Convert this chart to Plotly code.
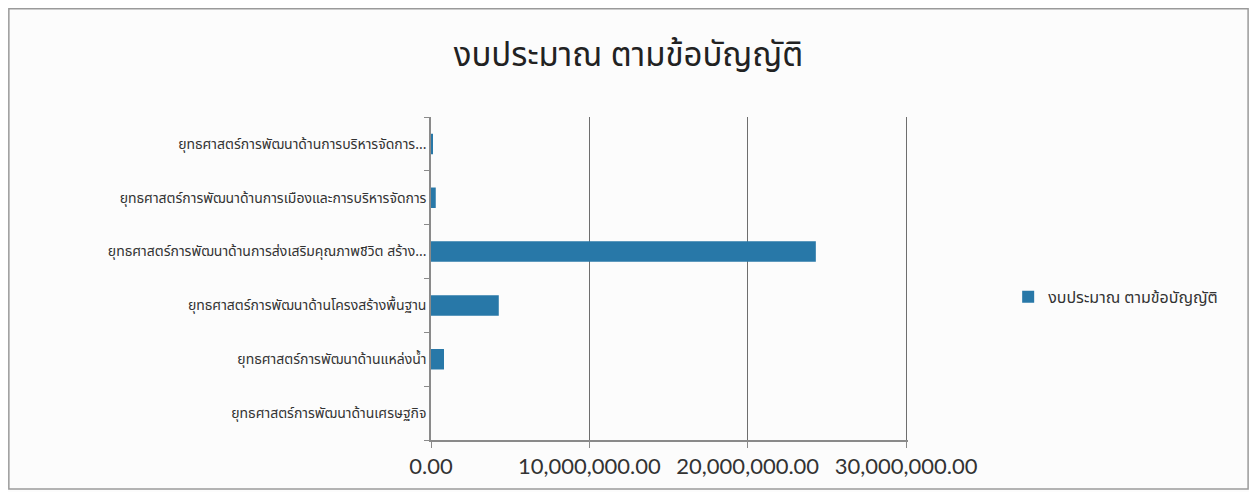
import plotly.graph_objects as go

categories = [
    "ยุทธศาสตร์การพัฒนาด้านเศรษฐกิจ",
    "ยุทธศาสตร์การพัฒนาด้านแหล่งน้ำ",
    "ยุทธศาสตร์การพัฒนาด้านโครงสร้างพื้นฐาน",
    "ยุทธศาสตร์การพัฒนาด้านการส่งเสริมคุณภาพชีวิต สร้าง...",
    "ยุทธศาสตร์การพัฒนาด้านการเมืองและการบริหารจัดการ",
    "ยุทธศาสตร์การพัฒนาด้านการบริหารจัดการ...",
]
values = [0, 820000, 4280000, 24300000, 300000, 100000]
series_name = "งบประมาณ ตามข้อบัญญัติ"
tick_vals = [0, 10000000, 20000000, 30000000]
tick_text = ["0.00", "10,000,000.00", "20,000,000.00", "30,000,000.00"]

thai_font = "Noto Sans Thai, Loma, Tahoma, Noto Sans, sans-serif"
bar_color = "#2878a8"

fig = go.Figure()
fig.add_trace(go.Bar(
    y=categories, x=values, orientation="h", name=series_name,
    marker=dict(color=bar_color, line=dict(width=0)),
    showlegend=True,
))

fig.update_layout(
    width=1241, height=484,
    paper_bgcolor="#fcfcfc", plot_bgcolor="#fcfcfc",
    margin=dict(l=423, r=341, t=109, b=52),
    bargap=0.62,
    title=dict(text=series_name, x=0.5, xanchor="center", yref="container",
               y=0.905, yanchor="middle",
               font=dict(family=thai_font, size=33, color="#222222")),
    xaxis=dict(range=[0, 30120000], tickvals=tick_vals, ticktext=tick_text,
               showgrid=True, gridcolor="#6e6e6e", gridwidth=1.2,
               showline=True, linecolor="#8a8a8a", linewidth=1.5,
               ticks="outside", ticklen=6, tickcolor="#8a8a8a",
               zeroline=False,
               tickfont=dict(family="Lato, Carlito, sans-serif", size=22, color="#333333")),
    yaxis=dict(showline=True, linecolor="#8a8a8a", linewidth=1.5,
               ticks="outside", ticklen=5, tickcolor="#8a8a8a",
               tickson="boundaries", showgrid=False,
               tickfont=dict(family=thai_font, size=14, color="#333333")),
    legend=dict(x=1.21, y=0.443, xanchor="left", yanchor="middle",
                itemwidth=30,
                font=dict(family=thai_font, size=16, color="#333333"),
                bgcolor="rgba(0,0,0,0)"),
    shapes=[dict(type="rect", xref="paper", yref="paper",
                 x0=-0.885, x1=1.713, y0=-0.152, y1=1.335,
                 line=dict(color="#9a9a9a", width=1.5), fillcolor="rgba(0,0,0,0)",
                 layer="below")],
)

fig.write_html("out.html")
